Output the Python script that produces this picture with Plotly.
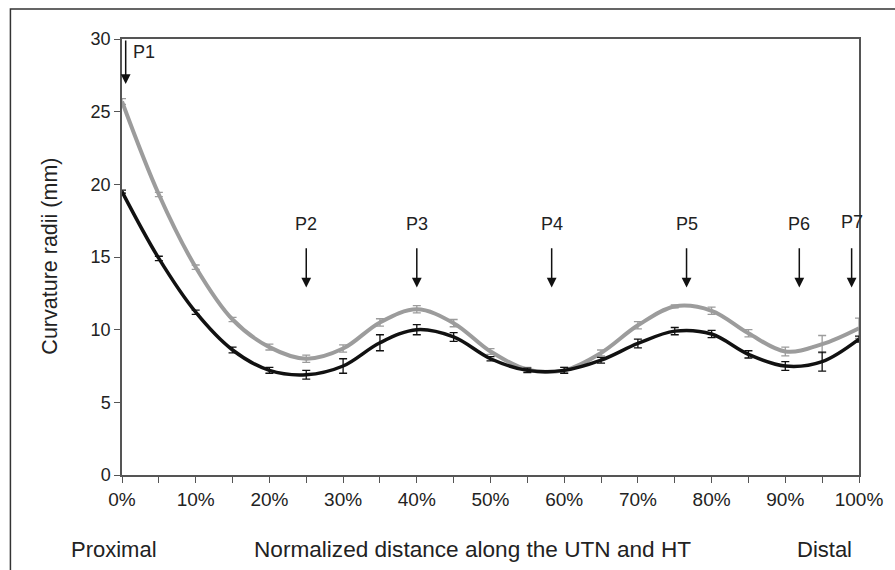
import plotly.graph_objects as go

# normalized position along the nerve (fraction 0..1)
positions = [0.00, 0.05, 0.10, 0.15, 0.20, 0.25, 0.30, 0.35, 0.40, 0.45, 0.50,
             0.55, 0.60, 0.65, 0.70, 0.75, 0.80, 0.85, 0.90, 0.95, 1.00]

# grey curve (upper) and its error
grey_radii = [25.7, 19.3, 14.3, 10.7, 8.8, 8.0, 8.7, 10.5, 11.4, 10.45, 8.5,
              7.25, 7.2, 8.4, 10.3, 11.6, 11.3, 9.75, 8.5, 9.0, 10.1]
grey_err = [0.2, 0.15, 0.15, 0.15, 0.2, 0.25, 0.25, 0.25, 0.25, 0.25, 0.2,
            0.15, 0.2, 0.2, 0.25, 0.1, 0.25, 0.25, 0.3, 0.6, 0.7]

# black curve (lower) and its error
black_radii = [19.5, 14.9, 11.2, 8.6, 7.2, 6.9, 7.5, 9.1, 10.0, 9.5, 8.0,
               7.2, 7.2, 7.9, 9.05, 9.9, 9.7, 8.3, 7.5, 7.8, 9.35]
black_err = [0.1, 0.15, 0.15, 0.2, 0.2, 0.3, 0.5, 0.55, 0.35, 0.3, 0.15,
             0.15, 0.2, 0.2, 0.3, 0.25, 0.25, 0.25, 0.3, 0.65, 0.2]

# landmarks P1..P7
mark_labels = ["P1", "P2", "P3", "P4", "P5", "P6", "P7"]
mark_pos = [0.005, 0.25, 0.40, 0.583, 0.766, 0.919, 0.99]

y_ticks = [0, 5, 10, 15, 20, 25, 30]
x_ticks = [i / 10 for i in range(11)]
x_ticktext = [f"{i * 10}%" for i in range(11)]

FONT = "Liberation Sans, Arial, sans-serif"
TXT = "#222222"
AXIS = "#555555"
GREY = "#9c9c9c"
BLACK = "#111111"

fig = go.Figure()
fig.add_trace(go.Scatter(
    x=positions, y=grey_radii, mode="lines", line=dict(color=GREY, width=4, shape="spline"),
    error_y=dict(type="data", array=grey_err, color=GREY, thickness=1.3, width=4),
    cliponaxis=False, showlegend=False,
))
fig.add_trace(go.Scatter(
    x=positions, y=black_radii, mode="lines", line=dict(color=BLACK, width=3.5, shape="spline"),
    error_y=dict(type="data", array=black_err, color=BLACK, thickness=1.3, width=4),
    cliponaxis=False, showlegend=False,
))

annotations = []
for lab, xp in zip(mark_labels, mark_pos):
    if lab == "P1":
        tip, tail = 26.9, 30.0
        annotations.append(dict(x=0.012, y=29.1, xref="x", yref="y", text=lab, showarrow=False,
                                xanchor="left", yanchor="middle", font=dict(size=18, color=TXT)))
    else:
        tip, tail = 12.9, 15.7
        annotations.append(dict(x=xp, y=17.25 if lab != "P7" else 17.4, xref="x", yref="y",
                                text=lab, showarrow=False, xanchor="center", yanchor="middle",
                                font=dict(size=18, color=TXT)))
    annotations.append(dict(x=xp, y=tip, ax=xp, ay=tail, xref="x", yref="y", axref="x", ayref="y",
                            text="", showarrow=True, arrowhead=2, arrowsize=1.3, arrowwidth=1.5,
                            arrowcolor="#111111"))

bottom_y = -0.170
annotations += [
    dict(x=0.476, y=bottom_y, xref="paper", yref="paper", text="Normalized distance along the UTN and HT",
         showarrow=False, xanchor="center", yanchor="middle", font=dict(size=22.6, color=TXT)),
    dict(x=-0.011, y=bottom_y, xref="paper", yref="paper", text="Proximal",
         showarrow=False, xanchor="center", yanchor="middle", font=dict(size=22, color=TXT)),
    dict(x=0.953, y=bottom_y, xref="paper", yref="paper", text="Distal",
         showarrow=False, xanchor="center", yanchor="middle", font=dict(size=22, color=TXT)),
    dict(x=-0.097, y=0.502, xref="paper", yref="paper", text="Curvature radii (mm)", textangle=-90,
         showarrow=False, xanchor="center", yanchor="middle", font=dict(size=21.5, color=TXT)),
]

fig.update_layout(
    width=895, height=570,
    paper_bgcolor="white", plot_bgcolor="white",
    margin=dict(l=122, r=33, t=39, b=95),
    font=dict(family=FONT, color=TXT, size=18),
    xaxis=dict(range=[0, 1], tickvals=x_ticks, ticktext=x_ticktext, ticks="outside", ticklen=6,
               tickcolor=AXIS, tickwidth=1.3, showgrid=False, zeroline=False,
               showline=True, linecolor=AXIS, linewidth=1.5, mirror=True,
               minor=dict(dtick=0.05, tick0=0, ticks="outside", ticklen=6, tickcolor=AXIS, tickwidth=1.3),
               tickfont=dict(size=19, color=TXT)),
    yaxis=dict(range=[0, 30], tickvals=y_ticks, ticks="outside", ticklen=6, tickcolor=AXIS,
               tickwidth=1.3, showgrid=False, zeroline=False,
               showline=True, linecolor=AXIS, linewidth=1.5, mirror=True,
               tickfont=dict(size=18, color=TXT)),
    annotations=annotations,
    shapes=[dict(type="rect", xref="paper", yref="paper", x0=-0.1514, x1=1.2, y0=-0.3, y1=1.0688,
                 line=dict(color="#333333", width=1.5), fillcolor="rgba(0,0,0,0)", layer="below")],
)

# the page body has a default 8px margin; drop it so the figure sits at 0,0
fig.write_html("out.html", config={"displayModeBar": False},
               post_script="document.body.style.margin='0';")
